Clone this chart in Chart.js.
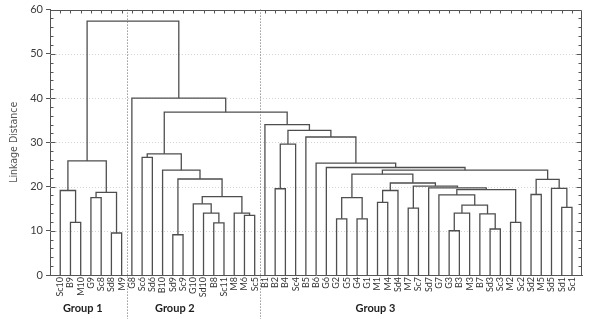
<!DOCTYPE html>
<html><head><meta charset="utf-8">
<script src="https://cdn.jsdelivr.net/npm/chart.js@4.4.1/dist/chart.umd.min.js"></script>
<style>html,body{margin:0;padding:0;background:#fff}#wrap{width:595px;height:319px;position:relative}</style>
</head><body><div id="wrap"><canvas id="c" width="595" height="319"></canvas></div>
<script>
// ---- DATA ----
const leafLabels = [
  'Sc10','B9','M10','G9','Sc8','Sd8','M9',
  'G8','Sc6','Sd6','B10','Sd9','Sc9','G10','Sd10','B8','Sc11','M8','M6','Sc5',
  'B1','B2','B4','Sc4','B5','B6','G6','G2','G5','G4','G1','M1','M4','Sd4','M7','Sc7',
  'Sd7','G7','G3','B3','M3','B7','Sd3','Sc3','M2','Sc2','Sd2','M5','Sd5','Sd1','Sc1'
];
const groupNames = ['Group 1', 'Group 2', 'Group 3'];
const groupSizes = [7, 13, 31];
// linkage: leaves are 0..50, 'mK' refers to the K-th merge below
const mergeLeft  = [1, 5, 3, 0, 'm2', 'm3', 8, 11, 15, 14, 13, 18, 17, 'm10', 'm7', 10, 'm6',
  21, 'm17', 27, 29, 'm19', 31, 'm22', 34, 38, 'm25', 42, 41, 'm26', 37, 44, 'm30', 36, 'm24', 'm23', 'm21',
  46, 49, 48, 'm37', 'm36', 26, 25, 24, 'm18', 20, 'm16', 7, 'm5'];
const mergeRight = [2, 6, 4, 'm0', 'm1', 'm4', 9, 12, 16, 'm8', 'm9', 19, 'm11', 'm12', 'm13', 'm14', 'm15',
  22, 23, 28, 30, 'm20', 32, 33, 35, 39, 40, 43, 'm27', 'm28', 'm29', 45, 'm31', 'm32', 'm33', 'm34', 'm35',
  47, 50, 'm38', 'm39', 'm40', 'm41', 'm42', 'm43', 'm44', 'm45', 'm46', 'm47', 'm48'];
const mergeHeight = [11.9, 9.5, 17.5, 19.1, 18.7, 25.8, 26.6, 9.1, 11.8, 14.0, 16.1, 13.5, 14.0, 17.7, 21.7, 23.7, 27.4,
  19.5, 29.6, 12.7, 12.7, 17.5, 16.4, 19.1, 15.1, 10.0, 14.0, 10.4, 13.8, 15.8, 18.1, 11.9, 19.3, 19.7, 20.1, 20.8, 22.8,
  18.2, 15.3, 19.6, 21.6, 23.7, 24.3, 25.3, 31.2, 32.7, 34.0, 36.8, 40.0, 57.4];
const yTickValues = [0, 10, 20, 30, 40, 50, 60];

// ---- build node positions from the linkage ----
const nLeaves = leafLabels.length;
const nodeX = leafLabels.map((_, i) => i);
const nodeH = leafLabels.map(() => 0);
const ref = r => typeof r === 'string' ? nLeaves + parseInt(r.slice(1), 10) : r;
const datasets = [];
mergeLeft.forEach((l, k) => {
  const a = ref(l), b = ref(mergeRight[k]), h = mergeHeight[k];
  nodeX.push((nodeX[a] + nodeX[b]) / 2);
  nodeH.push(h);
  datasets.push({
    data: [{x: nodeX[a], y: nodeH[a]}, {x: nodeX[a], y: h}, {x: nodeX[b], y: h}, {x: nodeX[b], y: nodeH[b]}],
    borderColor: '#4e4e4e', borderWidth: 1.3, pointRadius: 0, fill: false, tension: 0,
    borderJoinStyle: 'miter', borderCapStyle: 'butt'
  });
});

// group boundaries
const groupStart = [];
groupSizes.reduce((s, n) => { groupStart.push(s); return s + n; }, 0);

const deco = {
  id: 'deco',
  beforeDatasetsDraw(chart, args, opts) {
    const {ctx, chartArea: a, scales: {y}} = chart;
    ctx.save();
    ctx.strokeStyle = '#d4d4d4'; ctx.lineWidth = 1; ctx.setLineDash([1, 2]);
    yTickValues.forEach(v => {
      if (v <= 0 || v >= 60) return;
      const py = Math.round(y.getPixelForValue(v)) + 0.5;
      ctx.beginPath(); ctx.moveTo(a.left, py); ctx.lineTo(a.right, py); ctx.stroke();
    });
    ctx.restore();
  },
  afterDatasetsDraw(chart, args, opts) {
    const {ctx, chartArea: a, scales: {x, y}} = chart;
    ctx.save();
    ctx.strokeStyle = '#555'; ctx.lineWidth = 1; ctx.setLineDash([]);
    // frame top/right
    const L = Math.round(a.left) + 0.5, R = Math.round(a.right) - 0.5, T = Math.round(a.top) + 0.5;
    ctx.beginPath(); ctx.moveTo(L, T); ctx.lineTo(R, T); ctx.lineTo(R, a.bottom); ctx.stroke();
    // top ticks at leaves
    ctx.beginPath();
    for (let i = 0; i < nLeaves; i++) { const px = Math.round(x.getPixelForValue(i)) + 0.5; ctx.moveTo(px, T); ctx.lineTo(px, T + 3); }
    // minor ticks left and right
    for (let v = 2; v < 60; v += 2) {
      const py = Math.round(y.getPixelForValue(v)) + 0.5;
      const len = v % 10 === 0 ? 5 : 3;
      ctx.moveTo(L, py); ctx.lineTo(L + len, py);
      ctx.moveTo(R, py); ctx.lineTo(R - len, py);
    }
    ctx.stroke();
    // group dividers
    ctx.strokeStyle = '#666'; ctx.setLineDash([1, 2]);
    groupStart.slice(1).forEach(s => {
      const px = Math.round(x.getPixelForValue(s - 0.5)) + 0.5;
      ctx.beginPath(); ctx.moveTo(px, a.top); ctx.lineTo(px, chart.height); ctx.stroke();
    });
    // group labels
    ctx.setLineDash([]);
    ctx.fillStyle = '#1e1e1e'; ctx.font = 'bold 11px Lato, "Open Sans", sans-serif';
    ctx.textAlign = 'center'; ctx.textBaseline = 'middle';
    groupNames.forEach((g, i) => ctx.fillText(g, x.getPixelForValue(opts.labelAt[i]), opts.labelY));
    ctx.restore();
  }
};

new Chart(document.getElementById('c'), {
  type: 'line',
  data: { datasets },
  options: {
    responsive: false, animation: false, devicePixelRatio: 1,
    layout: { padding: { top: 6, right: 11, bottom: 18, left: 0 } },
    plugins: { legend: { display: false }, tooltip: { enabled: false },
      deco: { labelAt: [2.2, 11.2, 30.8], labelY: 308 } },
    scales: {
      x: {
        type: 'linear', min: -1, max: 51,
        ticks: { stepSize: 1, autoSkip: false, maxTicksLimit: 100, minRotation: 90, maxRotation: 90,
          padding: 2, color: '#333', font: { family: 'Lato, "Open Sans", sans-serif', size: 9 },
          callback: v => Number.isInteger(v) && leafLabels[v] !== undefined ? leafLabels[v] : '' },
        grid: { display: false, drawTicks: false },
        border: { display: true, color: '#555', width: 1 },
        afterFit: s => { s.height = 26; }
      },
      y: {
        type: 'linear', min: 0, max: 60,
        afterBuildTicks: s => { s.ticks = yTickValues.map(v => ({ value: v })); },
        ticks: { padding: 3, color: '#3c3c3c', font: { family: 'Lato, "Open Sans", sans-serif', size: 11 } },
        grid: { display: true, drawOnChartArea: false, drawTicks: true, tickLength: 4, color: '#555' },
        border: { display: true, color: '#555', width: 1 },
        title: { display: true, text: 'Linkage Distance', color: '#555', padding: { top: 8, bottom: 0 },
          font: { family: '"Liberation Sans Narrow", "DejaVu Sans Condensed", sans-serif', size: 10.5 } },
        afterFit: s => { s.width = 50; }
      }
    }
  },
  plugins: [deco]
});
</script></body></html>
